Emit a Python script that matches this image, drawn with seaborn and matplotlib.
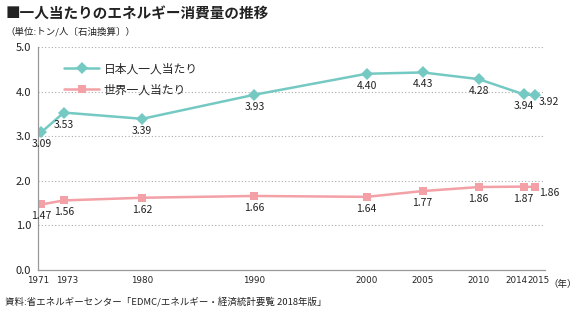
import matplotlib
matplotlib.use("Agg")
import matplotlib.pyplot as plt
import seaborn as sns
import pandas as pd

years = [1971, 1973, 1980, 1990, 2000, 2005, 2010, 2014, 2015]
japan = [3.09, 3.53, 3.39, 3.93, 4.40, 4.43, 4.28, 3.94, 3.92]
world = [1.47, 1.56, 1.62, 1.66, 1.64, 1.77, 1.86, 1.87, 1.86]
series_names = ["日本人一人当たり", "世界一人当たり"]
yticks = [0.0, 1.0, 2.0, 3.0, 4.0, 5.0]

sns.set_theme(style="white")
plt.rcParams['font.family'] = ['Noto Sans CJK JP', 'DejaVu Sans']

teal = "#74c9c3"
pink = "#f3a0a6"

df = pd.DataFrame({
    "year": years * 2,
    "value": japan + world,
    "series": [series_names[0]] * len(years) + [series_names[1]] * len(years),
})

fig = plt.figure(figsize=(5.79, 3.22), dpi=100)
ax = fig.add_axes([0.0656, 0.1615, 0.8754, 0.6925])

sns.lineplot(data=df, x="year", y="value", hue="series", style="series",
             palette=[teal, pink], markers=["D", "s"], dashes=False,
             markersize=6, markeredgewidth=0, linewidth=1.8, ax=ax, legend=False)

ax.set_xlim(1970.7, 2015.9)
ax.set_ylim(0, 5)
ax.set_yticks(yticks)
ax.set_yticklabels([f"{v:.1f}" for v in yticks], fontsize=8, color="#222222")
ax.set_xticks(years)
ax.set_xticklabels([])
ax.set_xlabel("")
ax.set_ylabel("")

# x tick labels drawn as annotations so crowded ones can be nudged apart
shifts = {1971: -2.0, 1973: 2.5, 2014: -5.0, 2015: 2.5}
for yr in years:
    ax.annotate(str(yr), (yr, 0), xycoords=("data", "axes fraction"),
                xytext=(shifts.get(yr, 0), -4), textcoords="offset points",
                ha="center", va="top", fontsize=6.3, color="#222222",
                family=["Liberation Sans Narrow", "DejaVu Sans"])

for v in yticks[1:]:
    ax.axhline(v, xmin=0, xmax=1, color="#aaaaaa", lw=0.8, ls=(0, (1, 2)), zorder=0)

for s in ["top", "right"]:
    ax.spines[s].set_visible(False)
for s in ["left", "bottom"]:
    ax.spines[s].set_color("#999999")
    ax.spines[s].set_linewidth(0.9)
ax.tick_params(axis="x", direction="in", length=3, color="#999999", pad=3)
ax.tick_params(axis="y", direction="out", length=3, color="#999999", pad=2)

# Data labels
def label_series(vals):
    for x, y in zip(years, vals):
        if x == 2015:
            ax.annotate(f"{y:.2f}", (x, y), xytext=(3, -1), textcoords="offset points",
                        ha="left", va="top", fontsize=7.5, color="#222222")
        else:
            ax.annotate(f"{y:.2f}", (x, y), xytext=(0, -5), textcoords="offset points",
                        ha="center", va="top", fontsize=7.5, color="#222222")

label_series(japan)
label_series(world)

# Legend
from matplotlib.lines import Line2D
handles = [Line2D([], [], color=teal, marker="D", markersize=6, markeredgewidth=0, lw=1.8),
           Line2D([], [], color=pink, marker="s", markersize=6, markeredgewidth=0, lw=1.8)]
ax.legend(handles, series_names, loc="upper left", bbox_to_anchor=(0.03, 0.98),
          frameon=False, fontsize=8.5, handlelength=3, labelspacing=0.7, handletextpad=0.4)

fig.text(0.009, 0.962, "■一人当たりのエネルギー消費量の推移", fontsize=10.5, fontweight="bold",
         va="center", ha="left", color="#222222")
fig.text(0.009, 0.900, "（単位:トン/人〔石油換算〕）", fontsize=6.8, va="center", ha="left",
         color="#222222")
fig.text(0.948, 0.118, "（年）", fontsize=6.8, va="center", ha="left", color="#222222")
fig.text(0.009, 0.065, "資料:省エネルギーセンター「EDMC/エネルギー・経済統計要覧 2018年版」",
         fontsize=6.8, va="center", ha="left", color="#222222")

fig.savefig("out.png", dpi=100, facecolor="white")
